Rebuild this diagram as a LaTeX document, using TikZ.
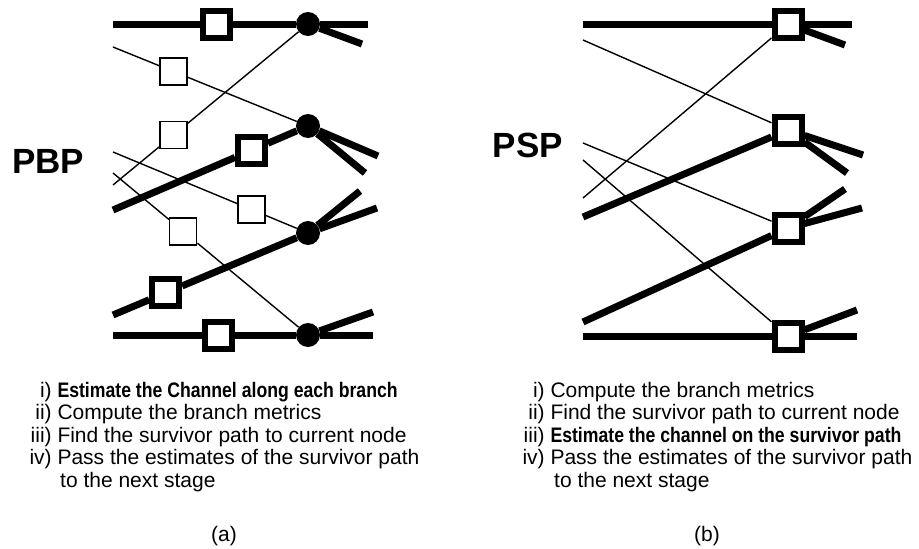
\documentclass[tikz,border=0pt]{standalone}
\usepackage{fontspec}
\setmainfont{Liberation Sans}
\newfontfamily\condbold[FakeStretch=0.84]{Liberation Sans Bold}
\usetikzlibrary{calc}
\begin{document}
\begin{tikzpicture}[x=1pt,y=-1pt,
  heavy/.style={line width=7pt},
  light/.style={line width=1.4pt},
  dot/.style={circle,fill=black,draw=none,minimum size=24pt,inner sep=0pt},
  sqheavy/.style={rectangle,draw=black,fill=white,line width=6pt,minimum size=27pt,inner sep=0pt},
  sqlight/.style={rectangle,draw=black,fill=white,line width=1.4pt,minimum size=27pt,inner sep=0pt},
  big/.style={font=\fontsize{35}{40}\selectfont\bfseries,inner sep=0pt},
  item/.style={font=\fontsize{21}{23}\selectfont,anchor=base west,inner sep=0pt},
  caption/.style={font=\fontsize{21}{23}\selectfont,inner sep=0pt}]
\useasboundingbox (0,0) rectangle (919,549);

% ---------------- (a) PBP ----------------
\node[dot] (a1) at (308,24) {};
\node[dot] (a2) at (308,126) {};
\node[dot] (a3) at (308,233) {};
\node[dot] (a4) at (308,335) {};
\coordinate (la1) at (113,24);
\coordinate (la2) at (113,47);
\coordinate (la3) at (113,185);
\coordinate (la4) at (113,210);
\coordinate (la5) at (113,152);
\coordinate (la6) at (113,173);
\coordinate (la7) at (113,315);
\coordinate (la8) at (113,335);
\node[sqheavy] (qa1) at ($(la1)!0.53!(a1)$) {};
\node[sqlight] (qa2) at ($(la2)!0.31!(a2)$) {};
\node[sqlight] (qa3) at ($(la3)!0.31!(a1)$) {};
\node[sqheavy] (qa4) at ($(la4)!0.71!(a2)$) {};
\node[sqlight] (qa5) at ($(la5)!0.71!(a3)$) {};
\node[sqlight] (qa6) at ($(la6)!0.36!(a4)$) {};
\node[sqheavy] (qa7) at ($(la7)!0.27!(a3)$) {};
\node[sqheavy] (qa8) at ($(la8)!0.54!(a4)$) {};
\coordinate (ra1) at (368,24);
\coordinate (ra1b) at (362,44);
\coordinate (ra2) at (378,156);
\coordinate (ra2b) at (365,173);
\coordinate (ra3) at (360,191);
\coordinate (ra3b) at (377,208);
\coordinate (ra4) at (373,335);
\coordinate (ra4b) at (373,312);

\draw[heavy] (la1) -- (qa1) -- (a1);
\draw[light] (la2) -- (qa2) -- (a2);
\draw[light] (la3) -- (qa3) -- (a1);
\draw[heavy] (la4) -- (qa4) -- (a2);
\draw[light] (la5) -- (qa5) -- (a3);
\draw[light] (la6) -- (qa6) -- (a4);
\draw[heavy] (la7) -- (qa7) -- (a3);
\draw[heavy] (la8) -- (qa8) -- (a4);
\draw[heavy] (a1) -- (ra1);
\draw[heavy] (a1) -- (ra1b);
\draw[heavy] (a2) -- (ra2);
\draw[heavy] (a2) -- (ra2b);
\draw[heavy] (a3) -- (ra3);
\draw[heavy] (a3) -- (ra3b);
\draw[heavy] (a4) -- (ra4);
\draw[heavy] (a4) -- (ra4b);

\node[big] (pbp) at (48,161) {PBP};

% ---------------- (b) PSP ----------------
\node[sqheavy] (b1) at (788,24) {};
\node[sqheavy] (b2) at (788,130) {};
\node[sqheavy] (b3) at (788,228) {};
\node[sqheavy] (b4) at (788,336) {};
\coordinate (lb1) at (583,24);
\coordinate (lb2) at (583,40);
\coordinate (lb3) at (583,198);
\coordinate (lb4) at (583,217);
\coordinate (lb5) at (583,143);
\coordinate (lb6) at (583,160);
\coordinate (lb7) at (583,322);
\coordinate (lb8) at (583,336);
\coordinate (rb1) at (852,24);
\coordinate (rb1b) at (845,45);
\coordinate (rb2) at (863,155);
\coordinate (rb2b) at (847,173);
\coordinate (rb3) at (845,189);
\coordinate (rb3b) at (862,208);
\coordinate (rb4) at (857,336);
\coordinate (rb4b) at (857,310);

\draw[heavy] (lb1) -- (b1);
\draw[light] (lb2) -- (b2);
\draw[light] (lb3) -- (b1);
\draw[heavy] (lb4) -- (b2);
\draw[light] (lb5) -- (b3);
\draw[light] (lb6) -- (b4);
\draw[heavy] (lb7) -- (b3);
\draw[heavy] (lb8) -- (b4);
\draw[heavy] (b1) -- (rb1);
\draw[heavy] (b1) -- (rb1b);
\draw[heavy] (b2) -- (rb2);
\draw[heavy] (b2) -- (rb2b);
\draw[heavy] (b3) -- (rb3);
\draw[heavy] (b3) -- (rb3b);
\draw[heavy] (b4) -- (rb4);
\draw[heavy] (b4) -- (rb4b);

\node[big] (psp) at (528,145) {PSP};

% ---------------- texts (a) ----------------
\node[item] (ta1) at (29,397) {\makebox[22.5pt][r]{i)}\ {\condbold Estimate the Channel along each branch}};
\node[item] (ta2) at (29,419) {\makebox[22.5pt][r]{ii)}\ Compute the branch metrics};
\node[item] (ta3) at (29,442) {\makebox[22.5pt][r]{iii)}\ Find the survivor path to current node};
\node[item] (ta4) at (29,464) {\makebox[22.5pt][r]{iv)}\ Pass the estimates of the survivor path};
\node[item] (ta5) at (60,487) {to the next stage};
\node[caption] (capa) at (224,536) {(a)};

% ---------------- texts (b) ----------------
\node[item] (tb1) at (522,397) {\makebox[22.5pt][r]{i)}\ Compute the branch metrics};
\node[item] (tb2) at (522,419) {\makebox[22.5pt][r]{ii)}\ Find the survivor path to current node};
\node[item] (tb3) at (522,442) {\makebox[22.5pt][r]{iii)}\ {\condbold Estimate the channel on the survivor path}};
\node[item] (tb4) at (522,464) {\makebox[22.5pt][r]{iv)}\ Pass the estimates of the survivor path};
\node[item] (tb5) at (554,487) {to the next stage};
\node[caption] (capb) at (707,536) {(b)};
\end{tikzpicture}
\end{document}
